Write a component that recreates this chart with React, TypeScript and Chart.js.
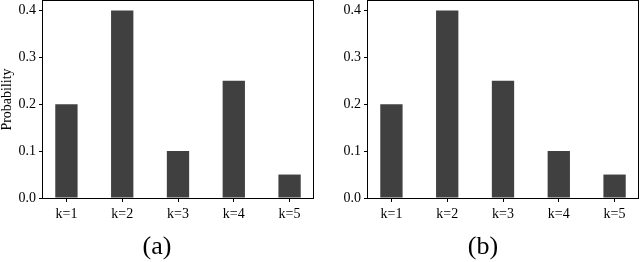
import React, { useEffect, useRef } from "react";
import { Chart, registerables } from "chart.js";

Chart.register(...registerables);

const categories = ["k=1", "k=2", "k=3", "k=4", "k=5"];
const seriesA = [0.2, 0.4, 0.1, 0.25, 0.05];
const seriesB = [0.2, 0.4, 0.25, 0.1, 0.05];
const yTickValues = [0, 0.1, 0.2, 0.3, 0.4];
const captions = ["(a)", "(b)"];

const FONT = "'Liberation Serif', 'Times New Roman', serif";

const framePlugin = {
  id: "frame",
  afterDraw(chart: any) {
    const { ctx, chartArea } = chart;
    ctx.save();
    ctx.strokeStyle = "#000";
    ctx.lineWidth = 1;
    ctx.strokeRect(
      Math.round(chartArea.left) - 0.5,
      Math.round(chartArea.top) - 0.5,
      Math.round(chartArea.right - chartArea.left) + 1,
      Math.round(chartArea.bottom - chartArea.top) + 1
    );
    ctx.restore();
  },
};

function Panel({ values, showTitle, axisWidth, padRight }: { values: number[]; showTitle: boolean; axisWidth: number; padRight: number }) {
  const ref = useRef<HTMLCanvasElement | null>(null);
  useEffect(() => {
    if (!ref.current) return;
    const chart = new Chart(ref.current, {
      type: "bar",
      data: {
        datasets: [
          {
            data: values.map((v, i) => ({ x: i, y: v })),
            backgroundColor: "#404040",
            borderWidth: 0,
            barPercentage: 0.4,
            categoryPercentage: 1.0,
          },
        ],
      },
      options: {
        animation: false,
        responsive: false,
        events: [],
        layout: { padding: { top: 1, right: padRight, left: 0, bottom: 0 } },
        plugins: { legend: { display: false }, tooltip: { enabled: false } },
        scales: {
          x: {
            type: "linear",
            min: -0.42,
            max: 4.42,
            offset: false,
            afterBuildTicks: (scale: any) => {
              scale.ticks = categories.map((_, i) => ({ value: i }));
            },
            afterFit: (scale: any) => {
              scale.height = 64;
              scale.paddingLeft = 0;
              scale.paddingRight = 0;
            },
            ticks: {
              autoSkip: false,
              maxRotation: 0,
              padding: 4,
              color: "#000",
              font: { family: FONT, size: 14 },
              callback: (v: any) => categories[Math.round(Number(v))] ?? "",
            },
            grid: { display: true, drawOnChartArea: false, drawTicks: true, tickLength: 4, color: "#000", offset: false },
            border: { display: false },
          },
          y: {
            type: "linear",
            min: 0,
            max: 0.42,
            afterBuildTicks: (scale: any) => {
              scale.ticks = yTickValues.map((v) => ({ value: v }));
            },
            afterFit: (scale: any) => {
              scale.width = axisWidth;
              scale.paddingTop = 0;
              scale.paddingBottom = 0;
            },
            ticks: {
              padding: 3,
              color: "#000",
              font: { family: FONT, size: 14 },
              callback: (v: any) => Number(v).toFixed(1),
            },
            grid: { display: true, drawOnChartArea: false, drawTicks: true, tickLength: 4, color: "#000" },
            border: { display: false },
            title: {
              display: showTitle,
              text: "Probability",
              color: "#000",
              padding: 0,
              font: { family: FONT, size: 14, lineHeight: 1 },
            },
          },
        },
      },
      plugins: [framePlugin],
    } as any);
    return () => chart.destroy();
  }, []);
  return <canvas ref={ref} width={320} height={262} style={{ display: "block", width: 320, height: 262 }} />;
}

export default function App() {
  return (
    <div style={{ position: "fixed", left: 0, top: 0, width: 640, height: 262, background: "#fff", overflow: "hidden" }}>
      <div style={{ position: "absolute", left: 0, top: 0 }}>
        <Panel values={seriesA} showTitle={true} axisWidth={43} padRight={7} />
      </div>
      <div style={{ position: "absolute", left: 320, top: 0 }}>
        <Panel values={seriesB} showTitle={false} axisWidth={48} padRight={2} />
      </div>
      <div style={{ position: "absolute", left: 107, top: 233, width: 100, height: 26, lineHeight: "26px", textAlign: "center", fontFamily: FONT, fontSize: 26, color: "#000" }}>
        {captions[0]}
      </div>
      <div style={{ position: "absolute", left: 433, top: 233, width: 100, height: 26, lineHeight: "26px", textAlign: "center", fontFamily: FONT, fontSize: 26, color: "#000" }}>
        {captions[1]}
      </div>
    </div>
  );
}
